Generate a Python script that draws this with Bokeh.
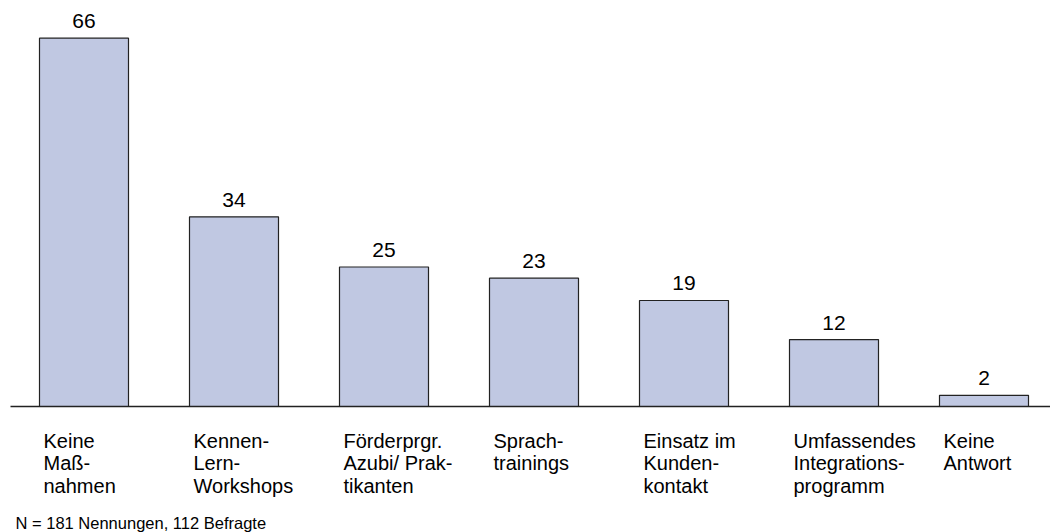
from bokeh.plotting import figure
from bokeh.models import Range1d, ColumnDataSource
from bokeh.core.properties import value
from bokeh.embed import file_html
from bokeh.resources import INLINE

categories = [
    "Keine\nMaß-\nnahmen",
    "Kennen-\nLern-\nWorkshops",
    "Förderprgr.\nAzubi/ Prak-\ntikanten",
    "Sprach-\ntrainings",
    "Einsatz im\nKunden-\nkontakt",
    "Umfassendes\nIntegrations-\nprogramm",
    "Keine\nAntwort",
]
values = [66, 34, 25, 23, 19, 12, 2]
footnote = "N = 181 Nennungen, 112 Befragte"

W, H = 1050, 532
PX_X = 150.0          # pixels per category step
PX_Y = 5.58           # pixels per unit
base_screen = 406     # baseline position within figure (px from top)
first_center = 83.5

x0 = -first_center / PX_X
x1 = x0 + W / PX_X
y1 = base_screen / PX_Y
y0 = -(H - base_screen) / PX_Y

FONT = value("Liberation Sans")

p = figure(width=W, height=H, output_backend="svg", toolbar_location=None,
           x_range=Range1d(x0, x1), y_range=Range1d(y0, y1),
           min_border=0, min_border_left=0, min_border_right=0,
           min_border_top=0, min_border_bottom=0)
p.axis.visible = False
p.grid.visible = False
p.outline_line_color = None
p.background_fill_color = "white"
p.border_fill_color = "white"

xs = list(range(len(values)))
bw = 89 / PX_X
src = ColumnDataSource(dict(
    x=xs, top=values,
    left=[x - bw / 2 for x in xs],
    vlab=[str(v) for v in values],
    cat=categories,
))

p.vbar(x="x", top="top", bottom=0, width=bw, source=src,
       fill_color="#c0c8e2", line_color="#222222", line_width=1.2)

# baseline
p.segment(x0=[x0 + 10 / PX_X], y0=[0], x1=[x1], y1=[0],
          line_color="#222222", line_width=1.5)

# value labels
p.text(x="x", y="top", text="vlab", source=src,
       text_font=FONT, text_font_size="21px", text_color="black",
       text_align="center", text_baseline="alphabetic", y_offset=-17)

# category labels
p.text(x="left", y=0, text="cat", source=src,
       text_font=FONT, text_font_size="20px", text_color="black",
       text_align="left", text_baseline="top", x_offset=4, y_offset=23,
       text_line_height=1.03)

# footnote
p.text(x=[x0 + 15 / PX_X], y=[0], text=[footnote],
       text_font=FONT, text_font_size="16.5px", text_color="black",
       text_align="left", text_baseline="alphabetic", y_offset=116)

open("out.html", "w").write(file_html(p, INLINE))
